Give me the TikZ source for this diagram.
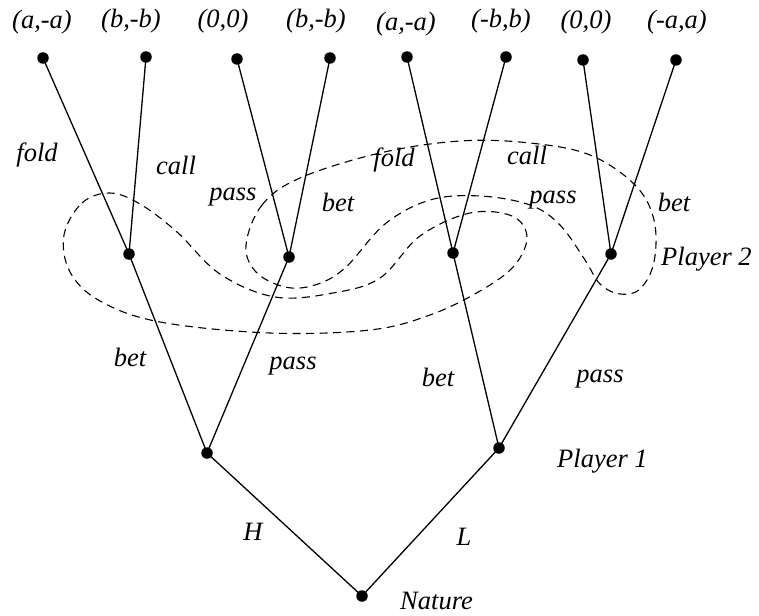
\documentclass[tikz,border=0pt]{standalone}
\usepackage{fontspec}
\setmainfont{Liberation Serif}
\begin{document}
\begin{tikzpicture}[x=1pt,y=-1pt,
  dot/.style={circle,fill=black,inner sep=0pt,minimum size=11.5pt},
  lbl/.style={font=\fontsize{26.5}{30}\selectfont\itshape,inner sep=0pt},
  edge/.style={line width=1.3pt},
  infoset/.style={line width=1.1pt,dash pattern=on 8pt off 5.5pt}]
\useasboundingbox (0,0) rectangle (759,615);
% nodes
\node[dot] (l1) at (43,58) {};
\node[dot] (l2) at (146,57) {};
\node[dot] (l3) at (237,59) {};
\node[dot] (l4) at (330,58) {};
\node[dot] (l5) at (407,57) {};
\node[dot] (l6) at (506,57) {};
\node[dot] (l7) at (583,60) {};
\node[dot] (l8) at (676,60) {};
\node[dot] (m1) at (129,254) {};
\node[dot] (m2) at (289,257) {};
\node[dot] (m3) at (453,253) {};
\node[dot] (m4) at (611,254) {};
\node[dot] (p1) at (207,453) {};
\node[dot] (p2) at (499,448) {};
\node[dot] (nat) at (362,596) {};
% edges
\draw[edge] (m1.center) -- (l1.center);
\draw[edge] (m1.center) -- (l2.center);
\draw[edge] (m2.center) -- (l3.center);
\draw[edge] (m2.center) -- (l4.center);
\draw[edge] (m3.center) -- (l5.center);
\draw[edge] (m3.center) -- (l6.center);
\draw[edge] (m4.center) -- (l7.center);
\draw[edge] (m4.center) -- (l8.center);
\draw[edge] (p1.center) -- (m1.center);
\draw[edge] (p1.center) -- (m2.center);
\draw[edge] (p2.center) -- (m3.center);
\draw[edge] (p2.center) -- (m4.center);
\draw[edge] (nat.center) -- (p1.center);
\draw[edge] (nat.center) -- (p2.center);
% information sets
\draw[infoset] plot[smooth cycle,tension=0.6] coordinates {
  (64,235) (82,203) (110,193) (140,204) (177,232) (220,274) (275,297)
  (333,293) (380,278) (420,236) (470,213) (512,216) (527,237) (514,266)
  (480,291) (430,315) (370,330) (270,333) (160,322) (100,301) (70,272)};
\draw[infoset] plot[smooth cycle,tension=0.6] coordinates {
  (246,245) (262,205) (300,178) (380,153) (460,141) (530,143) (590,155)
  (635,185) (654,220) (654,262) (640,289) (620,294) (600,284) (585,260)
  (560,225) (530,205) (480,196) (430,200) (385,224) (345,268) (315,285)
  (285,287) (256,272)};
% payoffs
\node[lbl] (t1) at (42,22) {(a,-a)};
\node[lbl] (t2) at (131,21) {(b,-b)};
\node[lbl] (t3) at (223,21) {(0,0)};
\node[lbl] (t4) at (316,21) {(b,-b)};
\node[lbl] (t5) at (406,24) {(a,-a)};
\node[lbl] (t6) at (501,21) {(-b,b)};
\node[lbl] (t7) at (586,22) {(0,0)};
\node[lbl] (t8) at (677,22) {(-a,a)};
% action labels
\node[lbl] (a1) at (37,155) {fold};
\node[lbl] (a2) at (176,165) {call};
\node[lbl] (a3) at (233,197) {pass};
\node[lbl] (a4) at (338,202) {bet};
\node[lbl] (a5) at (394,160) {fold};
\node[lbl] (a6) at (527,155) {call};
\node[lbl] (a7) at (553,200) {pass};
\node[lbl] (a8) at (674,202) {bet};
\node[lbl] (a9) at (130,357) {bet};
\node[lbl] (a10) at (293,366) {pass};
\node[lbl] (a11) at (438,377) {bet};
\node[lbl] (a12) at (600,379) {pass};
\node[lbl] (h) at (253,532) {H};
\node[lbl] (lo) at (464,537) {L};
% player labels
\node[lbl,anchor=west] (pl2) at (661,259) {Player 2};
\node[lbl,anchor=west] (pl1) at (557,461) {Player 1};
\node[lbl,anchor=west] (natl) at (400,601) {Nature};
\end{tikzpicture}
\end{document}
